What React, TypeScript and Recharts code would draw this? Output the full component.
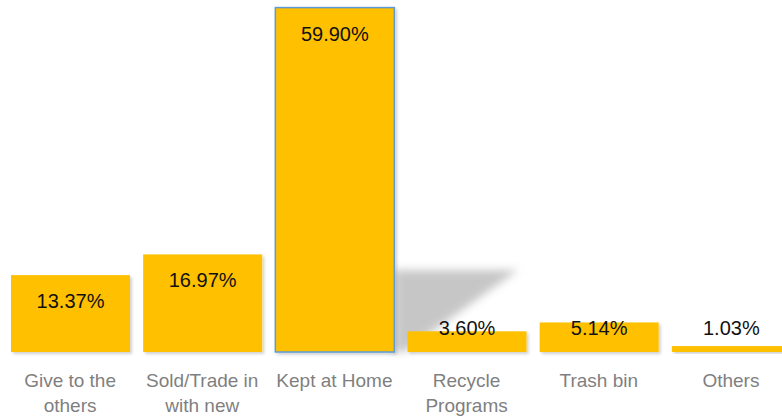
import React from 'react';
import { BarChart, Bar, XAxis, YAxis, LabelList } from 'recharts';

const categories = ['Give to the others', 'Sold/Trade in with new', 'Kept at Home', 'Recycle Programs', 'Trash bin', 'Others'];
const values = [13.37, 16.97, 59.9, 3.6, 5.14, 1.03];
const valueLabels = ['13.37%', '16.97%', '59.90%', '3.60%', '5.14%', '1.03%'];
const tickLines = [['Give to the', 'others'], ['Sold/Trade in', 'with new'], ['Kept at Home'], ['Recycle', 'Programs'], ['Trash bin'], ['Others']];
const highlightIndex = 2;

const data = categories.map((name, i) => ({ name, value: values[i], label: valueLabels[i], lines: tickLines[i] }));

const FONT = '"Liberation Sans", Arial, sans-serif';

const BarShape = (props: any) => {
  const { x, y, width, height, index } = props;
  const base = y + height;
  const right = x + width;
  if (index === highlightIndex) {
    const sh = height * 0.238;
    const pts = `${right},${base - sh} ${right + width * 1.04},${base - sh} ${right + width * 0.08},${base} ${right},${base}`;
    return (
      <g>
        <polygon points={pts} fill="#bdbdbd" opacity={0.85} filter="url(#blurShadow)" />
        <rect x={x} y={y} width={width} height={height} fill="#FFC000" stroke="#5B9BD5" strokeWidth={1.5} filter="url(#dropShadow)" />
      </g>
    );
  }
  return <rect x={x} y={y} width={width} height={height} fill="#FFC000" filter="url(#dropShadow)" />;
};

const ValueLabel = (props: any) => {
  const { x, y, width, height, index } = props;
  const cy = Math.min(y + 26, y + height - 24);
  return (
    <text x={x + width / 2} y={cy} textAnchor="middle" dominantBaseline="central" fontFamily={FONT} fontSize={20} fill="#111">
      {valueLabels[index]}
    </text>
  );
};

const Tick = (props: any) => {
  const { x, y, index } = props;
  const lines = tickLines[index] || [];
  return (
    <g>
      {lines.map((l: string, i: number) => (
        <text key={i} x={x} y={y + 27 + i * 25} textAnchor="middle" fontFamily={FONT} fontSize={19} fill="#7f7f7f">
          {l}
        </text>
      ))}
    </g>
  );
};

export default function App() {
  return (
    <div style={{ position: 'fixed', left: 0, top: 0, width: 782, height: 416, overflow: 'hidden', background: '#fff' }}>
      <BarChart width={800} height={416} data={data} margin={{ top: 7, right: 3, bottom: 0, left: 4 }} barSize={119}>
        <defs>
          <filter id="blurShadow" x="-20%" y="-20%" width="140%" height="140%">
            <feGaussianBlur stdDeviation="4" />
          </filter>
          <filter id="dropShadow" x="-10%" y="-10%" width="130%" height="130%">
            <feDropShadow dx="2" dy="2" stdDeviation="1.5" floodColor="#000" floodOpacity="0.18" />
          </filter>
        </defs>
        <XAxis dataKey="name" axisLine={false} tickLine={false} interval={0} height={64} tick={<Tick />} />
        <YAxis hide domain={[0, 60]} />
        <Bar dataKey="value" shape={<BarShape />} isAnimationActive={false}>
          <LabelList dataKey="label" content={<ValueLabel />} />
        </Bar>
      </BarChart>
    </div>
  );
}
